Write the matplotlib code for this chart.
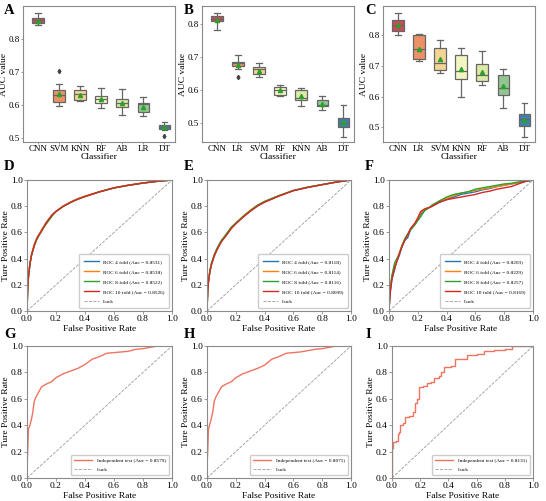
import matplotlib
matplotlib.use("Agg")
import matplotlib.pyplot as plt

plt.rcParams['font.family'] = 'serif'
plt.rcParams['font.serif'] = ['Liberation Serif', 'DejaVu Serif']
plt.rcParams['font.size'] = 6.8

# ---------------- box plot data (AUC values per classifier) ----------------
a_names = ['CNN', 'SVM', 'KNN', 'RF', 'AB', 'LR', 'DT']
a_q1 = [0.848, 0.609, 0.616, 0.604, 0.592, 0.578, 0.526]
a_med = [0.856, 0.631, 0.632, 0.617, 0.604, 0.602, 0.532]
a_q3 = [0.863, 0.646, 0.644, 0.627, 0.619, 0.604, 0.540]
a_lo = [0.842, 0.597, 0.612, 0.589, 0.568, 0.565, 0.524]
a_hi = [0.880, 0.663, 0.657, 0.652, 0.649, 0.624, 0.548]
a_mean = [0.853, 0.634, 0.630, 0.617, 0.606, 0.594, 0.532]
a_fliers = [[], [0.704], [], [], [], [], [0.504]]

b_names = ['CNN', 'LR', 'SVM', 'RF', 'KNN', 'AB', 'DT']
b_q1 = [0.809, 0.673, 0.648, 0.586, 0.571, 0.551, 0.489]
b_med = [0.817, 0.682, 0.663, 0.601, 0.576, 0.556, 0.501]
b_q3 = [0.825, 0.687, 0.670, 0.609, 0.601, 0.571, 0.516]
b_lo = [0.784, 0.663, 0.641, 0.582, 0.551, 0.538, 0.457]
b_hi = [0.835, 0.706, 0.682, 0.617, 0.607, 0.581, 0.554]
b_mean = [0.812, 0.675, 0.659, 0.599, 0.582, 0.559, 0.503]
b_fliers = [[], [0.639], [], [], [], [], []]

c_names = ['CNN', 'LR', 'SVM', 'KNN', 'RF', 'AB', 'DT']
c_q1 = [0.814, 0.722, 0.688, 0.659, 0.652, 0.605, 0.503]
c_med = [0.833, 0.757, 0.710, 0.685, 0.670, 0.629, 0.526]
c_q3 = [0.851, 0.800, 0.759, 0.737, 0.708, 0.672, 0.545]
c_lo = [0.801, 0.715, 0.678, 0.600, 0.639, 0.563, 0.467]
c_hi = [0.874, 0.803, 0.786, 0.758, 0.749, 0.689, 0.580]
c_mean = [0.833, 0.757, 0.723, 0.691, 0.682, 0.634, 0.524]
c_fliers = [[], [], [], [], [], [], []]

box_colors = ['#cb4a55', '#ec9166', '#f3d494', '#f5f5c4', '#dde9a6', '#93c592', '#3f81ad']

# ---------------- ROC data ----------------
d_fpr = [0, 0.005, 0.01, 0.02, 0.03, 0.05, 0.07, 0.1, 0.13, 0.17, 0.2, 0.25,
         0.3, 0.35, 0.4, 0.5, 0.6, 0.7, 0.8, 0.9, 1.0]
d_tpr4 = [0, 0.17, 0.26, 0.36, 0.42, 0.50, 0.56, 0.61, 0.67, 0.73, 0.76, 0.800,
          0.830, 0.855, 0.875, 0.910, 0.940, 0.960, 0.977, 0.990, 1.0]
d_tpr6 = [0, 0.18, 0.27, 0.36, 0.43, 0.51, 0.56, 0.62, 0.67, 0.73, 0.76, 0.802,
          0.832, 0.857, 0.877, 0.911, 0.941, 0.961, 0.978, 0.990, 1.0]
d_tpr8 = [0, 0.16, 0.26, 0.35, 0.42, 0.50, 0.55, 0.61, 0.66, 0.72, 0.76, 0.798,
          0.828, 0.853, 0.873, 0.909, 0.939, 0.959, 0.976, 0.990, 1.0]
d_tpr10 = [0, 0.17, 0.26, 0.36, 0.42, 0.50, 0.56, 0.61, 0.67, 0.73, 0.76, 0.799,
           0.829, 0.854, 0.874, 0.910, 0.940, 0.960, 0.977, 0.990, 1.0]
d_labels = ['ROC 4 fold (Auc = 0.8531)', 'ROC 6 fold (Auc = 0.8538)',
            'ROC 8 fold (Auc = 0.8522)', 'ROC 10 fold (Auc = 0.8526)']

e_fpr = d_fpr
e_tpr4 = [0, 0.15, 0.22, 0.30, 0.35, 0.42, 0.47, 0.53, 0.58, 0.64, 0.67, 0.720,
          0.765, 0.805, 0.835, 0.880, 0.920, 0.945, 0.965, 0.985, 1.0]
e_tpr6 = [0, 0.15, 0.22, 0.30, 0.36, 0.42, 0.47, 0.53, 0.58, 0.64, 0.67, 0.722,
          0.768, 0.807, 0.836, 0.881, 0.920, 0.945, 0.965, 0.985, 1.0]
e_tpr8 = [0, 0.16, 0.23, 0.31, 0.36, 0.43, 0.48, 0.54, 0.58, 0.64, 0.67, 0.721,
          0.766, 0.806, 0.836, 0.880, 0.920, 0.945, 0.965, 0.985, 1.0]
e_tpr10 = [0, 0.15, 0.22, 0.30, 0.35, 0.42, 0.47, 0.53, 0.57, 0.63, 0.665, 0.715,
           0.760, 0.800, 0.830, 0.877, 0.918, 0.943, 0.964, 0.984, 1.0]
e_labels = ['ROC 4 fold (Auc = 0.8118)', 'ROC 6 fold (Auc = 0.8114)',
            'ROC 8 fold (Auc = 0.8116)', 'ROC 10 fold (Auc = 0.8099)']

f_fpr = [0, 0.005, 0.01, 0.02, 0.03, 0.04, 0.05, 0.07, 0.09, 0.11, 0.13, 0.15,
         0.18, 0.2, 0.22, 0.25, 0.28, 0.3, 0.35, 0.4, 0.45, 0.5, 0.55, 0.6,
         0.65, 0.7, 0.75, 0.8, 0.85, 0.9, 0.95, 1.0]
f_tpr4 = [0, 0.10, 0.16, 0.24, 0.28, 0.32, 0.37, 0.42, 0.49, 0.54, 0.56, 0.62,
          0.66, 0.70, 0.74, 0.77, 0.79, 0.80, 0.83, 0.85, 0.87, 0.89, 0.90, 0.91,
          0.925, 0.935, 0.95, 0.96, 0.97, 0.98, 0.99, 1.0]
f_tpr6 = [0, 0.12, 0.18, 0.26, 0.31, 0.35, 0.38, 0.44, 0.50, 0.55, 0.58, 0.63,
          0.67, 0.71, 0.75, 0.78, 0.79, 0.80, 0.84, 0.86, 0.88, 0.90, 0.91, 0.92,
          0.93, 0.94, 0.95, 0.96, 0.97, 0.98, 0.99, 1.0]
f_tpr8 = [0, 0.11, 0.18, 0.27, 0.32, 0.37, 0.39, 0.43, 0.50, 0.55, 0.59, 0.62,
          0.66, 0.69, 0.72, 0.77, 0.79, 0.81, 0.84, 0.87, 0.89, 0.90, 0.91, 0.93,
          0.94, 0.95, 0.96, 0.97, 0.975, 0.985, 0.99, 1.0]
f_tpr10 = [0, 0.09, 0.15, 0.24, 0.29, 0.33, 0.36, 0.43, 0.49, 0.54, 0.58, 0.63,
           0.67, 0.71, 0.76, 0.78, 0.79, 0.80, 0.83, 0.85, 0.86, 0.87, 0.88, 0.89,
           0.905, 0.915, 0.93, 0.94, 0.95, 0.97, 0.99, 1.0]
f_labels = ['ROC 4 fold (Auc = 0.8203)', 'ROC 6 fold (Auc = 0.8229)',
            'ROC 8 fold (Auc = 0.8257)', 'ROC 10 fold (Auc = 0.8169)']

g_fpr = [0, 0, 0.005, 0.01, 0.02, 0.03, 0.04, 0.05, 0.06, 0.08, 0.1, 0.13,
         0.17, 0.2, 0.25, 0.3, 0.35, 0.4, 0.45, 0.5, 0.55, 0.6, 0.65, 0.7,
         0.75, 0.8, 0.85, 0.9, 1.0]
g_tpr = [0, 0.10, 0.20, 0.37, 0.40, 0.44, 0.50, 0.58, 0.61, 0.65, 0.69, 0.71,
         0.73, 0.76, 0.79, 0.81, 0.83, 0.86, 0.90, 0.92, 0.945, 0.95, 0.955, 0.96,
         0.975, 0.98, 0.99, 1.0, 1.0]

h_fpr = g_fpr
h_tpr = [0, 0.10, 0.20, 0.37, 0.41, 0.45, 0.50, 0.58, 0.61, 0.65, 0.69, 0.71,
         0.73, 0.76, 0.79, 0.81, 0.83, 0.855, 0.90, 0.92, 0.945, 0.95, 0.955, 0.965,
         0.975, 0.98, 0.99, 1.0, 1.0]

i_fpr = [0, 0, 0.01, 0.03, 0.04, 0.05, 0.06, 0.08, 0.09, 0.12, 0.15, 0.16,
         0.18, 0.19, 0.22, 0.25, 0.28, 0.3, 0.33, 0.35, 0.37, 0.42, 0.45, 0.5,
         0.53, 0.6, 0.65, 0.72, 0.8, 0.85, 1.0]
i_tpr = [0, 0.23, 0.27, 0.28, 0.33, 0.35, 0.40, 0.42, 0.46, 0.47, 0.50, 0.57,
         0.60, 0.69, 0.70, 0.72, 0.73, 0.76, 0.77, 0.80, 0.84, 0.85, 0.90, 0.90,
         0.93, 0.94, 0.96, 0.97, 0.98, 1.0, 1.0]

indep_labels = ['Independent test (Auc = 0.8579)', 'Independent test (Auc = 0.8071)',
                'Independent test (Auc = 0.8131)']

fold_colors = ['#1f77b4', '#ff7f0e', '#2ca02c', '#d62728']
indep_color = '#ee7461'
spine_color = '#8a8a8a'

W, H = 546, 501
fig = plt.figure(figsize=(5.46, 5.01), dpi=100)


def add_ax(l, t, r, b):
    return fig.add_axes([l / W, (H - b) / H, (r - l) / W, (b - t) / H])


def style_spines(ax, size=6.8):
    for s in ax.spines.values():
        s.set_color(spine_color)
        s.set_linewidth(0.8)
    ax.tick_params(length=2, width=0.6, color=spine_color, pad=1, labelsize=size)


def draw_box(ax, names, q1, med, q3, lo, hi, mean, fliers):
    stats = []
    for i in range(len(names)):
        stats.append({'q1': q1[i], 'med': med[i], 'q3': q3[i], 'whislo': lo[i],
                      'whishi': hi[i], 'mean': mean[i], 'fliers': fliers[i]})
    bp = ax.bxp(stats, positions=range(len(names)), widths=0.55, showmeans=True,
                patch_artist=True,
                boxprops=dict(edgecolor='#666666', linewidth=0.9),
                medianprops=dict(color='#666666', linewidth=0.9),
                whiskerprops=dict(color='#666666', linewidth=0.9),
                capprops=dict(color='#666666', linewidth=0.9),
                meanprops=dict(marker='^', markerfacecolor='#2ca02c',
                               markeredgecolor='#2ca02c', markersize=3),
                flierprops=dict(marker='d', markerfacecolor='#444444',
                                markeredgecolor='#444444', markersize=2.2))
    for patch, c in zip(bp['boxes'], box_colors):
        patch.set_facecolor(c)
    ax.set_xticks(range(len(names)))
    ax.set_xticklabels(names)
    ax.set_xlim(-0.7, 6.5)
    ax.set_yticks([0.5, 0.6, 0.7, 0.8])
    ax.set_ylabel('AUC value')
    ax.set_xlabel('Classifier', labelpad=0)
    style_spines(ax, 6.5)
    ax.tick_params(length=1.5)
    ax.yaxis.set_label_coords(-0.1, 0.5)


def roc_base(ax):
    ax.plot([0, 1], [0, 1], linestyle='--', color='#9a9a9a', linewidth=0.6, label='Luck')
    ax.set_xlim(0, 1)
    ax.set_ylim(0, 1)
    ax.set_xticks([0, 0.2, 0.4, 0.6, 0.8, 1.0])
    ax.set_yticks([0, 0.2, 0.4, 0.6, 0.8, 1.0])
    ax.set_xticklabels(['0.0', '0.2', '0.4', '0.6', '0.8', '1.0'])
    ax.set_yticklabels(['0.0', '0.2', '0.4', '0.6', '0.8', '1.0'])
    ax.set_xlabel('False Positive Rate', labelpad=1)
    ax.set_ylabel('Ture Positive Rate', labelpad=1)
    style_spines(ax)


def draw_folds(ax, fpr, tprs, labels):
    for tpr, lab, c in zip(tprs, labels, fold_colors):
        ax.plot(fpr, tpr, color=c, linewidth=1.0, label=lab)
    roc_base(ax)
    ax.legend(loc='lower right', fontsize=3.8, labelspacing=1.0, handlelength=2.8,
              borderpad=0.9, framealpha=1, edgecolor='#cccccc', fancybox=True)


def draw_indep(ax, fpr, tpr, label, steps=False):
    if steps:
        ax.plot(fpr, tpr, color=indep_color, linewidth=1.0, label=label, drawstyle='steps-post')
    else:
        ax.plot(fpr, tpr, color=indep_color, linewidth=1.0, label=label)
    roc_base(ax)
    ax.legend(loc='lower right', fontsize=3.8, labelspacing=0.7, handlelength=3.4,
              borderpad=0.7, framealpha=1, edgecolor='#cccccc', fancybox=True)


ax_a = add_ax(23, 6, 175, 142)
draw_box(ax_a, a_names, a_q1, a_med, a_q3, a_lo, a_hi, a_mean, a_fliers)
ax_a.set_ylim(0.487, 0.9)

ax_b = add_ax(202, 6, 354, 142)
draw_box(ax_b, b_names, b_q1, b_med, b_q3, b_lo, b_hi, b_mean, b_fliers)
ax_b.set_ylim(0.442, 0.856)

ax_c = add_ax(383, 6, 535, 142)
draw_box(ax_c, c_names, c_q1, c_med, c_q3, c_lo, c_hi, c_mean, c_fliers)
ax_c.set_ylim(0.452, 0.896)

ax_d = add_ax(27, 180, 172, 311)
draw_folds(ax_d, d_fpr, [d_tpr4, d_tpr6, d_tpr8, d_tpr10], d_labels)
ax_e = add_ax(207, 180, 351, 311)
draw_folds(ax_e, e_fpr, [e_tpr4, e_tpr6, e_tpr8, e_tpr10], e_labels)
ax_f = add_ax(389, 180, 533, 311)
draw_folds(ax_f, f_fpr, [f_tpr4, f_tpr6, f_tpr8, f_tpr10], f_labels)

ax_g = add_ax(27, 346, 172, 478)
draw_indep(ax_g, g_fpr, g_tpr, indep_labels[0])
ax_h = add_ax(207, 346, 351, 478)
draw_indep(ax_h, h_fpr, h_tpr, indep_labels[1])
ax_i = add_ax(392, 346, 533, 478)
draw_indep(ax_i, i_fpr, i_tpr, indep_labels[2], steps=True)

panel_pos = {'A': (4, 11), 'B': (184, 11), 'C': (365, 11),
             'D': (4, 167), 'E': (184, 167), 'F': (365, 167),
             'G': (4, 334), 'H': (184, 334), 'I': (365, 334)}
for letter, (px, py) in panel_pos.items():
    fig.text(px / W, (H - py) / H, letter, fontsize=10.5, fontweight='bold', va='center')

fig.savefig('out.png', dpi=100, facecolor='white')
